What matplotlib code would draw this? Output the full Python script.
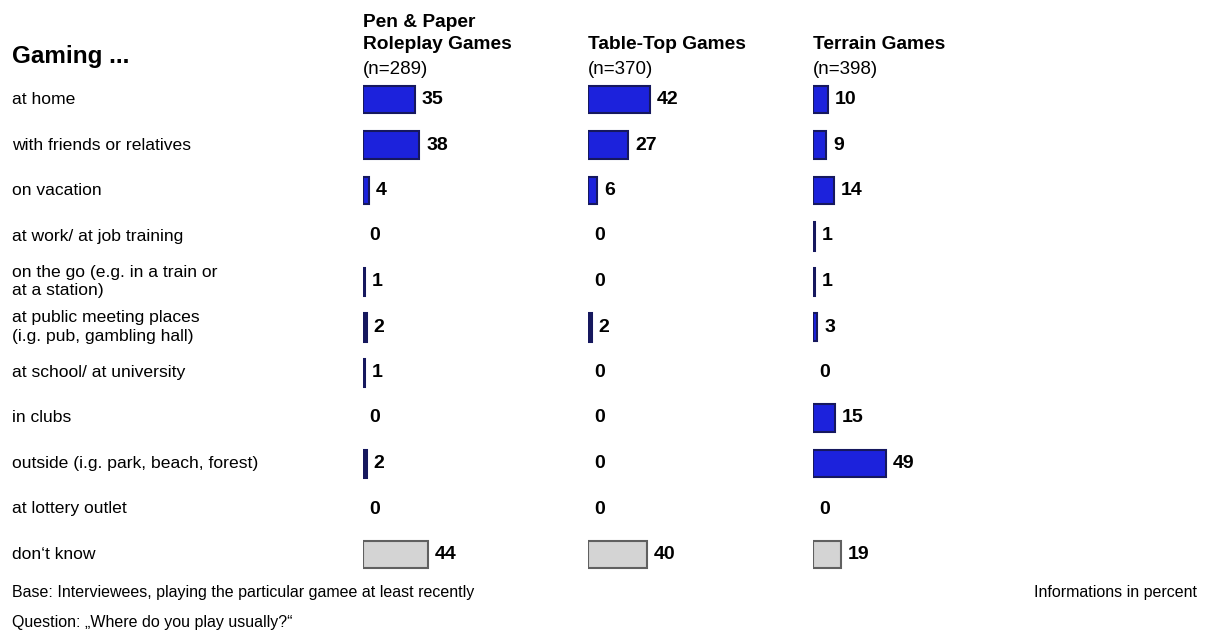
import matplotlib.pyplot as plt
import matplotlib.transforms as mtransforms

plt.rcParams['font.family'] = ['Liberation Sans', 'DejaVu Sans']

categories = ['at home', 'with friends or relatives', 'on vacation',
              'at work/ at job training', 'on the go (e.g. in a train or\nat a station)',
              'at public meeting places\n(i.g. pub, gambling hall)', 'at school/ at university',
              'in clubs', 'outside (i.g. park, beach, forest)', 'at lottery outlet',
              "don\u2018t know"]
groups = ['Pen & Paper\nRoleplay Games', 'Table-Top Games', 'Terrain Games']
group_n = ['(n=289)', '(n=370)', '(n=398)']
pen_paper = [35, 38, 4, 0, 1, 2, 1, 0, 2, 0, 44]
table_top = [42, 27, 6, 0, 0, 2, 0, 0, 0, 0, 40]
terrain = [10, 9, 14, 1, 1, 3, 0, 15, 49, 0, 19]
values = [pen_paper, table_top, terrain]

W, H = 1210, 632
fig = plt.figure(figsize=(W / 100, H / 100), dpi=100)

px_per_pct = 1.48
panel_left = [363, 588, 813]
panel_w = 200
row0, row_step = 99.5, 45.5
top = row0 - row_step / 2
bottom = row0 + 10 * row_step + row_step / 2

blue, blue_edge = '#1c22dc', '#16185e'
grey, grey_edge = '#d4d4d4', '#606060'

for g, (name, n, vals) in enumerate(zip(groups, group_n, values)):
    ax = fig.add_axes([panel_left[g] / W, 1 - bottom / H, panel_w / W, (bottom - top) / H])
    ax.set_xlim(0, panel_w / px_per_pct)
    ax.set_ylim(10.5, -0.5)
    ax.axis('off')
    ypos = list(range(len(categories)))
    colors = [blue] * (len(vals) - 1) + [grey]
    edges = [blue_edge] * (len(vals) - 1) + [grey_edge]
    for y, v, c, e in zip(ypos, vals, colors, edges):
        if v > 0:
            ax.barh(y, v, height=0.6, color=c, edgecolor=e,
                    linewidth=1.5 if v > 2 else 2.2, left=0)
        ax.annotate(str(v), xy=(v, y), xytext=(5 if v > 0 else 4.5, 0), textcoords='offset points',
                    ha='left', va='center', fontsize=14, fontweight='bold', color='black')
    fig.text(panel_left[g] / W, 1 - 49 / H, name, ha='left', va='baseline',
             fontsize=13.8, fontweight='bold', linespacing=1.38)
    fig.text(panel_left[g] / W, 1 - 74 / H, n, ha='left', va='baseline', fontsize=13.5)
    if g == 0:
        trans = mtransforms.blended_transform_factory(fig.transFigure, ax.transData)
        for y, cat in zip(ypos, categories):
            ax.text(12 / W, y, cat, transform=trans, ha='left', va='center',
                    fontsize=12.6, linespacing=1.3)

fig.text(12 / W, 1 - 57 / H, 'Gaming ...', ha='left', va='center', fontsize=17.5, fontweight='bold')
fig.text(12 / W, 1 - 593 / H, 'Base: Interviewees, playing the particular gamee at least recently',
         ha='left', va='center', fontsize=11.5)
fig.text(12 / W, 1 - 622 / H, 'Question: \u201eWhere do you play usually?\u201c',
         ha='left', va='center', fontsize=11.5)
fig.text(1197 / W, 1 - 592 / H, 'Informations in percent', ha='right', va='center', fontsize=11.5)

plt.savefig('out.png', dpi=100)
